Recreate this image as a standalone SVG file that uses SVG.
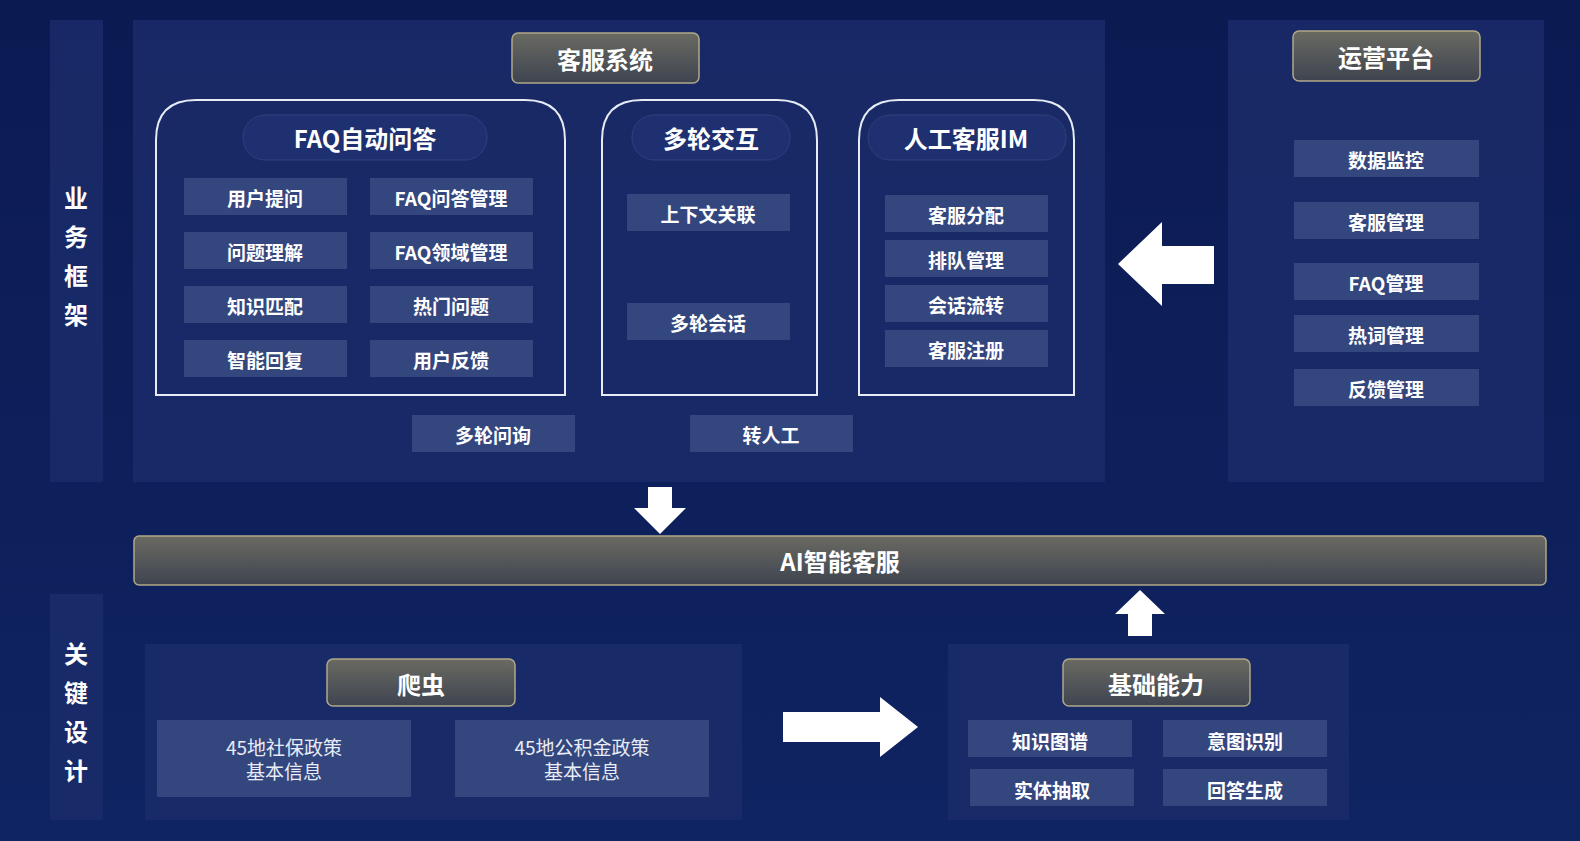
<svg xmlns="http://www.w3.org/2000/svg" width="1580" height="841" viewBox="0 0 1580 841">
<defs>
<linearGradient id="bg" x1="0" y1="0" x2="0" y2="1"><stop offset="0" stop-color="#0c1a52"/><stop offset="1" stop-color="#0f2462"/></linearGradient>
<linearGradient id="tg" x1="0" y1="0" x2="0" y2="1"><stop offset="0" stop-color="#6a6a62"/><stop offset="1" stop-color="#3e4450"/></linearGradient>
<style>
.panel{fill:#1b2c6a;fill-opacity:0.85}
.item{fill:#34467e}
.t{font-family:"Noto Sans CJK SC","Liberation Sans",sans-serif;fill:#fff;font-weight:bold;text-anchor:middle;dominant-baseline:central}
.s{font-size:19px}
.m{font-size:24px}
.n{font-size:19px;font-weight:normal;fill:#e8ecf6}
.title{fill:url(#tg);stroke:#b0a888;stroke-width:1.5}
.frame{fill:none;stroke:#e6ebf5;stroke-width:2}
.pill{fill:#1e3070;stroke:#2e4080;stroke-width:1}
.arrow{fill:#fff}
</style>
</defs>
<rect width="1580" height="841" fill="url(#bg)"/>
<g id="side1"><rect class="panel" x="50" y="20" width="53" height="462"/><text class="t m" x="76" y="196">业</text><text class="t m" x="76" y="235">务</text><text class="t m" x="76" y="274">框</text><text class="t m" x="76" y="313">架</text></g>
<g id="side2"><rect class="panel" x="50" y="594" width="53" height="226"/><text class="t m" x="76" y="652">关</text><text class="t m" x="76" y="691">键</text><text class="t m" x="76" y="730">设</text><text class="t m" x="76" y="769">计</text></g>
<g id="kefu">
<rect class="panel" x="133" y="20" width="972" height="462"/>
<rect class="title" x="512" y="33" width="187" height="50" rx="6"/><text class="t m" x="605" y="58">客服系统</text>
<path class="frame" d="M156 395 V140 Q156 100 196 100 H525 Q565 100 565 140 V395 Z"/>
<rect class="pill" x="243" y="115" width="244" height="45" rx="22"/><text class="t m" x="365" y="137">FAQ自动问答</text>
<rect class="item" x="184" y="178" width="163" height="37"/><text class="t s" x="265" y="197">用户提问</text>
<rect class="item" x="370" y="178" width="163" height="37"/><text class="t s" x="451" y="197">FAQ问答管理</text>
<rect class="item" x="184" y="232" width="163" height="37"/><text class="t s" x="265" y="251">问题理解</text>
<rect class="item" x="370" y="232" width="163" height="37"/><text class="t s" x="451" y="251">FAQ领域管理</text>
<rect class="item" x="184" y="286" width="163" height="37"/><text class="t s" x="265" y="305">知识匹配</text>
<rect class="item" x="370" y="286" width="163" height="37"/><text class="t s" x="451" y="305">热门问题</text>
<rect class="item" x="184" y="340" width="163" height="37"/><text class="t s" x="265" y="359">智能回复</text>
<rect class="item" x="370" y="340" width="163" height="37"/><text class="t s" x="451" y="359">用户反馈</text>
<path class="frame" d="M602 395 V140 Q602 100 642 100 H777 Q817 100 817 140 V395 Z"/>
<rect class="pill" x="632" y="115" width="158" height="45" rx="22"/><text class="t m" x="711" y="137">多轮交互</text>
<rect class="item" x="627" y="194" width="163" height="37"/><text class="t s" x="708" y="213">上下文关联</text>
<rect class="item" x="627" y="303" width="163" height="37"/><text class="t s" x="708" y="322">多轮会话</text>
<path class="frame" d="M859 395 V140 Q859 100 899 100 H1034 Q1074 100 1074 140 V395 Z"/>
<rect class="pill" x="868" y="115" width="198" height="45" rx="22"/><text class="t m" x="966" y="137">人工客服IM</text>
<rect class="item" x="885" y="195" width="163" height="37"/><text class="t s" x="966" y="214">客服分配</text>
<rect class="item" x="885" y="240" width="163" height="37"/><text class="t s" x="966" y="259">排队管理</text>
<rect class="item" x="885" y="285" width="163" height="37"/><text class="t s" x="966" y="304">会话流转</text>
<rect class="item" x="885" y="330" width="163" height="37"/><text class="t s" x="966" y="349">客服注册</text>
<rect class="item" x="412" y="415" width="163" height="37"/><text class="t s" x="493" y="434">多轮问询</text>
<rect class="item" x="690" y="415" width="163" height="37"/><text class="t s" x="771" y="434">转人工</text>
</g>
<g id="yunying">
<rect class="panel" x="1228" y="20" width="316" height="462"/>
<rect class="title" x="1293" y="31" width="187" height="50" rx="6"/><text class="t m" x="1386" y="56">运营平台</text>
<rect class="item" x="1294" y="140" width="185" height="37"/><text class="t s" x="1386" y="159">数据监控</text>
<rect class="item" x="1294" y="202" width="185" height="37"/><text class="t s" x="1386" y="221">客服管理</text>
<rect class="item" x="1294" y="263" width="185" height="37"/><text class="t s" x="1386" y="282">FAQ管理</text>
<rect class="item" x="1294" y="315" width="185" height="37"/><text class="t s" x="1386" y="334">热词管理</text>
<rect class="item" x="1294" y="369" width="185" height="37"/><text class="t s" x="1386" y="388">反馈管理</text>
</g>
<g id="ai"><rect class="title" x="134" y="536" width="1412" height="49" rx="5"/><text class="t m" x="840" y="560">AI智能客服</text></g>
<g id="pachong">
<rect class="panel" x="145" y="644" width="597" height="176"/>
<rect class="title" x="327" y="659" width="188" height="47" rx="6"/><text class="t m" x="421" y="683">爬虫</text>
<rect class="item" x="157" y="720" width="254" height="77"/><text class="t n" x="284" y="746">45地社保政策</text><text class="t n" x="284" y="770">基本信息</text>
<rect class="item" x="455" y="720" width="254" height="77"/><text class="t n" x="582" y="746">45地公积金政策</text><text class="t n" x="582" y="770">基本信息</text>
</g>
<g id="jichu">
<rect class="panel" x="948" y="644" width="401" height="176"/>
<rect class="title" x="1063" y="659" width="187" height="47" rx="6"/><text class="t m" x="1156" y="683">基础能力</text>
<rect class="item" x="968" y="720" width="164" height="37"/><text class="t s" x="1050" y="740">知识图谱</text>
<rect class="item" x="1163" y="720" width="164" height="37"/><text class="t s" x="1245" y="740">意图识别</text>
<rect class="item" x="970" y="769" width="164" height="37"/><text class="t s" x="1052" y="789">实体抽取</text>
<rect class="item" x="1163" y="769" width="164" height="37"/><text class="t s" x="1245" y="789">回答生成</text>
</g>
<g id="connectors">
<polygon class="arrow" points="1214,246 1162,246 1162,222 1118,264 1162,306 1162,284 1214,284"/>
<polygon class="arrow" points="648,487 672,487 672,508 686,508 660,534 634,508 648,508"/>
<polygon class="arrow" points="1128,636 1152,636 1152,614 1165,614 1140,590 1115,614 1128,614"/>
<polygon class="arrow" points="783,712 880,712 880,697 918,727 880,757 880,742 783,742"/>
</g>
</svg>
